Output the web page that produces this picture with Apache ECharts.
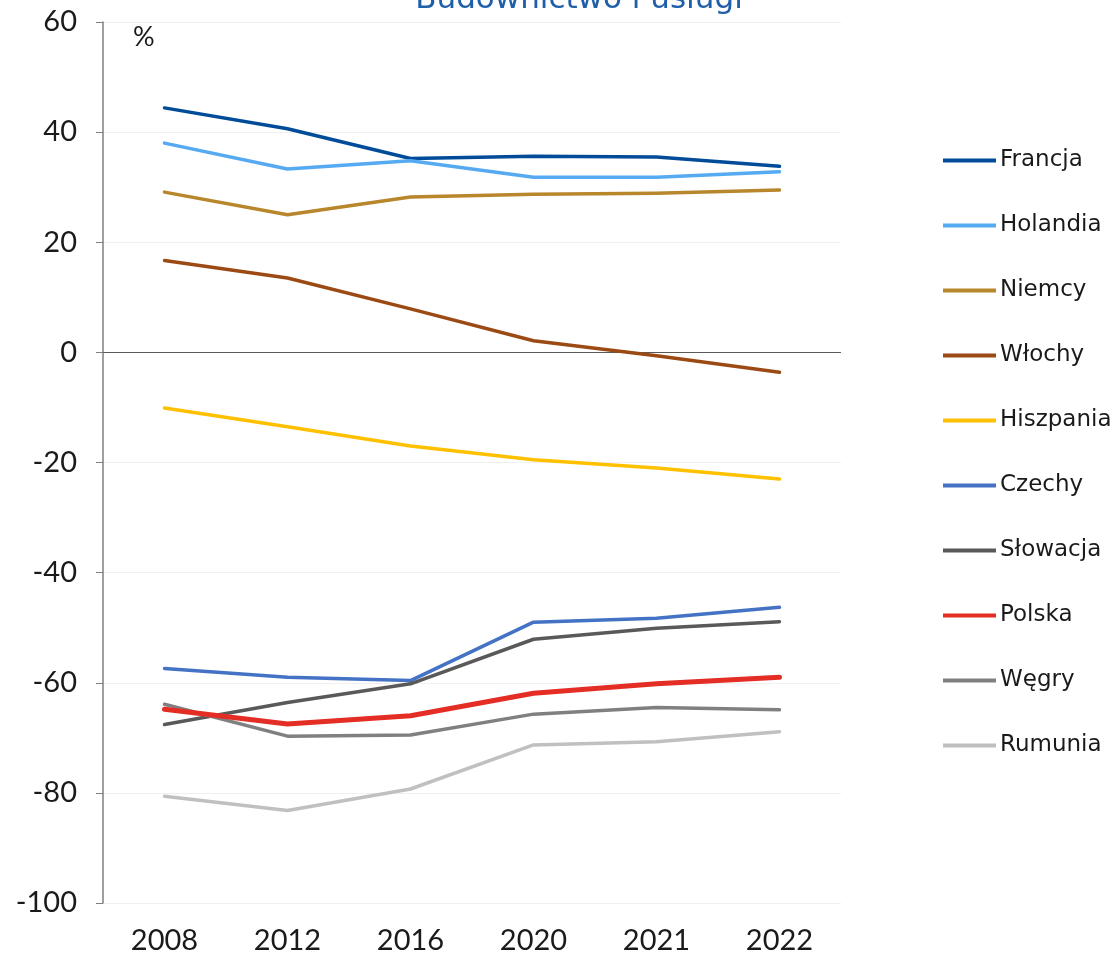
<!DOCTYPE html>
<html><head><meta charset="utf-8">
<script src="https://cdn.jsdelivr.net/npm/echarts@6/dist/echarts.min.js"></script>
<style>html,body{margin:0;padding:0;background:#fff}#c{width:1120px;height:955px}</style>
</head><body><div id="c"></div>
<script>
const title = 'Budownictwo i usługi';
const unitLabel = '%';
const years = ['2008','2012','2016','2020','2021','2022'];
const names = ['Francja','Holandia','Niemcy','Włochy','Hiszpania','Czechy','Słowacja','Polska','Węgry','Rumunia'];
const francja   = [44.4, 40.6, 35.2, 35.6, 35.5, 33.8];
const holandia  = [38.0, 33.3, 34.8, 31.8, 31.8, 32.8];
const niemcy    = [29.1, 25.0, 28.2, 28.7, 28.9, 29.5];
const wlochy    = [16.7, 13.5, 7.9, 2.1, -0.6, -3.6];
const hiszpania = [-10.1, -13.5, -17.0, -19.5, -21.0, -23.0];
const czechy    = [-57.4, -59.0, -59.6, -49.0, -48.3, -46.3];
const slowacja  = [-67.6, -63.6, -60.2, -52.1, -50.1, -48.9];
const polska    = [-64.8, -67.5, -66.0, -61.9, -60.2, -59.0];
const wegry     = [-63.9, -69.7, -69.5, -65.7, -64.5, -64.9];
const rumunia   = [-80.6, -83.2, -79.3, -71.3, -70.7, -68.9];
const values = [francja, holandia, niemcy, wlochy, hiszpania, czechy, slowacja, polska, wegry, rumunia];
const colors = ['#004c99','#55aaf2','#b8862b','#9c4a14','#ffc000','#4472c4','#595959','#e42d24','#808080','#c0c0c0'];
const widths = [3.5,3.5,3.5,3.5,3.5,3.5,3.5,5,3.5,3.5];

const FONT = 'Lato';
const LFONT = 'DejaVu Sans';
const series = names.map((n,i)=>({
  name:n, type:'line', data:values[i], symbol:'none', smooth:false,
  lineStyle:{color:colors[i], width:widths[i], cap:'round', join:'round'},
  itemStyle:{color:colors[i]},
  z: i===7 ? 5 : 3,
  emphasis:{disabled:true}
}));
series[0].markLine = {
  silent:true, symbol:'none', label:{show:false},
  lineStyle:{color:'#595959', width:1, type:'solid'},
  data:[{yAxis:0}], z:1
};

const chart = echarts.init(document.getElementById('c'), null, {renderer:'canvas'});
chart.setOption({
  animation:false,
  backgroundColor:'#fff',
  title:{text:title, left:574, textAlign:'center', top:-21,
    textStyle:{color:'#1f5ea8', fontFamily:LFONT, fontSize:31, fontWeight:'normal'}},
  graphic:[{type:'text', left:133, top:24, style:{text:unitLabel, fill:'#1a1a1a', font:'27px '+FONT}}],
  grid:{left:103, right:279, top:22, bottom:52, containLabel:false},
  legend:{
    orient:'vertical', left:938, top:144,
    itemWidth:53, itemHeight:4, itemGap:42, icon:'rect',
    textStyle:{fontFamily:LFONT, fontSize:23, color:'#1a1a1a', padding:[0,0,0,-1]},
    data:names.map((n,i)=>({name:n, itemStyle:{color:colors[i]}}))
  },
  xAxis:{type:'category', data:years, boundaryGap:true,
    axisLine:{show:false}, axisTick:{show:false},
    axisLabel:{fontFamily:FONT, fontSize:29, color:'#1a1a1a', margin:23}},
  yAxis:{type:'value', min:-100, max:60, interval:20,
    axisLine:{show:true, lineStyle:{color:'#7f7f7f', width:1.5}},
    axisTick:{show:true, length:7, lineStyle:{color:'#7f7f7f'}},
    axisLabel:{fontFamily:FONT, fontSize:29, color:'#1a1a1a', margin:26}},
  series:series
});
chart.setOption({yAxis:{splitLine:{show:true, lineStyle:{color:'#f0f0f0', width:1}}}});
</script></body></html>
